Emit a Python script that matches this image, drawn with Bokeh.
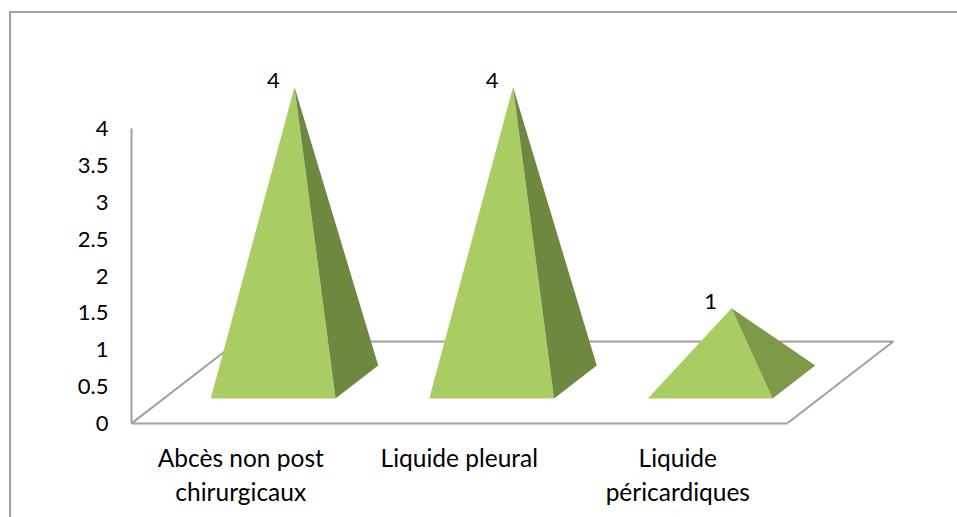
from bokeh.embed import file_html
from bokeh.resources import INLINE
from bokeh.plotting import figure
from bokeh.models import Range1d, FixedTicker, ColumnDataSource, InlineStyleSheet
from bokeh.core.properties import value

categories = ["Abcès non post\nchirurgicaux", "Liquide pleural", "Liquide\npéricardiques"]
values = [4, 4, 1]
value_labels = ["4", "4", "1"]
y_ticks = [0, 0.5, 1, 1.5, 2, 2.5, 3, 3.5, 4]
y_tick_labels = ["0", "0.5", "1", "1.5", "2", "2.5", "3", "3.5", "4"]
front_color = "#A9CC63"
side_colors = ["#6F883F", "#6F883F", "#7E9A48"]
grid_color = "#A0A0A0"

FONT = "Lato"
DEPTH_X = 0.486   # floor depth, in category widths
DEPTH_Y = 1.112   # floor depth, in value units
BAR_W = 0.571
Z0, Z1 = 0.305, 0.707

def proj(cx, off, z, h=0.0):
    return cx + off + z * DEPTH_X, h + z * DEPTH_Y

# outer chart border (only its left and top edges fall inside the picture)
border = InlineStyleSheet(css=""":host::before {content:''; position:absolute; z-index:5;
 left:9px; top:11px; width:948px; height:506px; pointer-events:none;
 border-left:2px solid #A0A0A0; border-top:2px solid #A0A0A0;}""")

p = figure(width=957, height=517, output_backend="svg", toolbar_location=None,
           x_range=Range1d(0, 3.78), y_range=Range1d(0, 5.736),
           min_border_left=131, min_border_right=0, min_border_top=0, min_border_bottom=94,
           stylesheets=[border])
p.outline_line_color = None
p.background_fill_color = "white"
p.grid.visible = False

ax = p.yaxis[0]
ax.ticker = FixedTicker(ticks=y_ticks)
ax.major_label_overrides = dict(zip(y_ticks, y_tick_labels))
ax.bounds = (0, 4)
ax.axis_line_color = grid_color
ax.axis_line_width = 2
ax.major_tick_line_color = None
ax.minor_tick_line_color = None
ax.major_label_standoff = 17
ax.major_label_text_font = FONT
ax.major_label_text_font_size = "22px"
ax.major_label_text_color = "#000000"

xa = p.xaxis[0]
xt = [i + 0.5 for i in range(len(categories))]
xa.ticker = FixedTicker(ticks=xt)
xa.major_label_overrides = dict(zip(xt, categories))
xa.bounds = (0, 3)
xa.axis_line_color = grid_color
xa.axis_line_width = 2
xa.major_tick_line_color = None
xa.minor_tick_line_color = None
xa.major_label_standoff = 13
xa.major_label_text_font = FONT
xa.major_label_text_font_size = "24.5px"
xa.major_label_text_color = "#000000"

# floor
fx = [0, DEPTH_X, 3 + DEPTH_X, 3]
fy = [0, DEPTH_Y, DEPTH_Y, 0]
p.line(fx, fy, line_color=grid_color, line_width=2)

# pyramids
for i, v in enumerate(values):
    c = i + 0.5
    fl = proj(c, -BAR_W / 2, Z0)
    fr = proj(c, BAR_W / 2, Z0)
    br = proj(c, BAR_W / 2, Z1)
    ap = proj(c, 0, (Z0 + Z1) / 2, v)
    p.patch([fl[0], fr[0], ap[0]], [fl[1], fr[1], ap[1]], fill_color=front_color, line_color=None)
    p.patch([fr[0], br[0], ap[0]], [fr[1], br[1], ap[1]], fill_color=side_colors[i], line_color=None)

src = ColumnDataSource(dict(
    x=[proj(i + 0.5, 0, (Z0 + Z1) / 2)[0] for i in range(len(values))],
    y=[proj(i + 0.5, 0, (Z0 + Z1) / 2, v)[1] for i, v in enumerate(values)],
    t=value_labels))
p.text("x", "y", "t", source=src, x_offset=-21, y_offset=1, text_align="center",
       text_baseline="bottom", text_font=value(FONT), text_font_size="22px", text_color="#000000")

open("out.html", "w").write(file_html(p, INLINE))
